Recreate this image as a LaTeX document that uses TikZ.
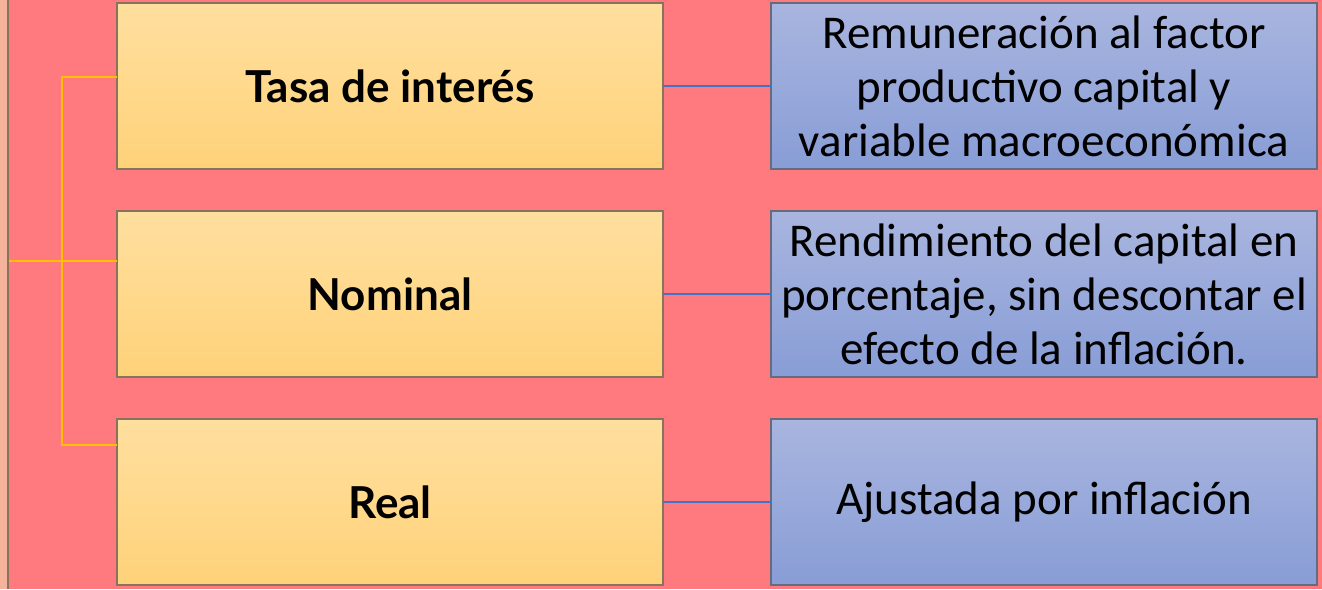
\documentclass[tikz,border=0pt]{standalone}
\usepackage{fontspec}
\setmainfont{Carlito}
\newfontfamily\headfont{Lato}
\usetikzlibrary{positioning}

\definecolor{bgpink}{HTML}{FF7A7F}
\definecolor{stripsalmon}{HTML}{F6B39C}
\definecolor{boxorangetop}{HTML}{FFDF9F}
\definecolor{boxorangebot}{HTML}{FFD279}
\definecolor{boxbluetop}{HTML}{A9B5DF}
\definecolor{boxbluebot}{HTML}{889DD6}
\definecolor{orangeborder}{HTML}{86745C}
\definecolor{blueborder}{HTML}{666C80}
\definecolor{treeyellow}{HTML}{FFC000}
\definecolor{linkblue}{HTML}{4472C4}

\begin{document}
\begin{tikzpicture}[x=1pt, y=-1pt,
    termbox/.style={rectangle, draw=orangeborder, line width=1.4pt, top color=boxorangetop, bottom color=boxorangebot, minimum width=546pt, minimum height=166pt, outer sep=0pt, font=\headfont\bfseries\fontsize{44}{52}\selectfont},
    meaningbox/.style={rectangle, draw=blueborder, line width=1.4pt, top color=boxbluetop, bottom color=boxbluebot, minimum width=546pt, minimum height=166pt, outer sep=0pt, align=center, inner sep=2pt, font=\fontsize{47}{54}\selectfont},
    treeline/.style={draw=treeyellow, line width=2.5pt},
    linkline/.style={draw=linkblue, line width=2.2pt}]

        \useasboundingbox (0,0) rectangle (1322,589);
        \fill[bgpink] (0,0) rectangle (1322,589);
        \fill[stripsalmon] (0,0) rectangle (8,589);
        \draw[orangeborder, line width=1.4pt] (8,0) -- (8,589);

        \node[termbox] (tasa) at (390,86) {Tasa de interés};
        \node[termbox] (nominal) [below=42pt of tasa] {Nominal};
        \node[termbox] (real) [below=42pt of nominal] {Real};

        \node[meaningbox] (remuneracion) [right=108pt of tasa] {Remuneración al factor\\productivo capital y\\variable macroeconómica};
        \node[meaningbox] (rendimiento) [right=108pt of nominal] {Rendimiento del capital en\\porcentaje, sin descontar el\\efecto de la inflación.};
        \node[meaningbox] (ajustada) [right=108pt of real] {Ajustada por inflación};

        % tree on the left
        \coordinate (root) at (9,261);
        \coordinate (trunk) at (62,261);
        \draw[treeline] (root) -- (trunk);
        \draw[treeline] ([yshift=9pt]tasa.west) -| ([yshift=57pt]real.west -| trunk) -- ([yshift=57pt]real.west);
        \draw[treeline] (trunk) -- ([yshift=33pt]nominal.west);

        % links to the meanings
        \draw[linkline] (tasa) -- (remuneracion);
        \draw[linkline] (nominal) -- (rendimiento);
        \draw[linkline] (real) -- (ajustada);

        \end{tikzpicture}
\end{document}
